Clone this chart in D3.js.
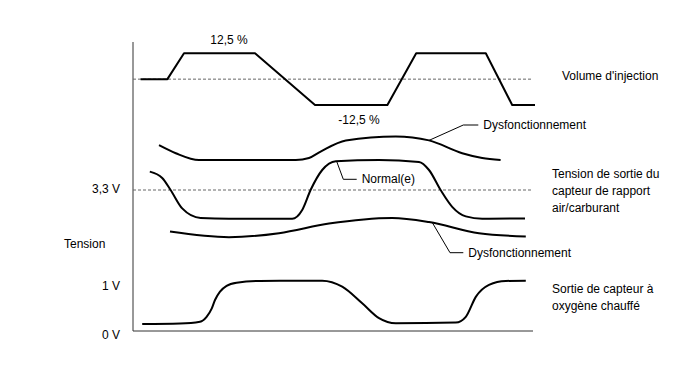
<!DOCTYPE html>
<html><head><meta charset="utf-8">
<script src="https://cdn.jsdelivr.net/npm/d3@7/dist/d3.min.js"></script>
<style>
body{margin:0;background:#fff;}
text{font-family:"Liberation Sans",Arial,sans-serif;font-size:12px;fill:#000;}
</style></head>
<body><svg id="c" width="688" height="366"></svg>
<script>
// time axis (arbitrary units 0..100)
const injT = [1.9, 8.6, 12.75, 30.5, 45.5, 63.6, 70.8, 88.2, 94.8, 100.5];
const injV = [0, 0, 12.5, 12.5, -12.5, -12.5, 12.5, 12.5, -12.5, -12.5];

const afNormalT = [4.2, 7.3, 9.4, 12.3, 16.9, 24, 39.8, 42.3, 44.4, 47.3, 50.7, 61.5, 71.5, 74, 76.9, 79.8, 83.2, 87.3, 98];
const afNormalV = [3.53, 3.45, 3.30, 3.07, 2.95, 2.94, 2.94, 3.05, 3.30, 3.55, 3.66, 3.675, 3.65, 3.55, 3.30, 3.09, 2.97, 2.94, 2.945];

const afHighT = [6.5, 10.7, 16.5, 40.7, 44, 46.9, 53.2, 65.7, 74, 82.3, 87.3, 91.9];
const afHighV = [3.86, 3.76, 3.675, 3.675, 3.70, 3.78, 3.92, 3.97, 3.92, 3.76, 3.70, 3.675];

const afLowT = [9.25, 24, 36.5, 49, 64.8, 74, 86.5, 98.2];
const afLowV = [2.78, 2.71, 2.76, 2.88, 2.95, 2.90, 2.76, 2.72];

const o2T = [2.3, 11.75, 16.75, 18.4, 19.7, 20.5, 21.75, 23.4, 25.9, 31.75, 47.3, 52.3, 57.3, 61.5, 65.7, 80.7, 83.2, 85.7, 89, 93.2, 98.2];
const o2V = [0.158, 0.17, 0.21, 0.32, 0.51, 0.70, 0.89, 1.02, 1.09, 1.13, 1.135, 1.0, 0.625, 0.29, 0.174, 0.19, 0.32, 0.77, 1.04, 1.13, 1.135];

const voltTicks = [
  {label: "3,3 V", scale: "af", v: 3.3},
  {label: "1 V", scale: "o2", v: 1},
  {label: "0 V", scale: "o2", v: 0}
];
const injLabels = [{text: "12,5 %", t: 24, v: 12.5}, {text: "-12,5 %", t: 56.5, v: -12.5}];

const svg = d3.select("#c");
const x = d3.scaleLinear().domain([0, 100]).range([133, 533]);
const yInj = d3.scaleLinear().domain([-12.5, 12.5]).range([105, 53.3]);
const yAF = d3.scaleLinear().domain([2.5, 4.1]).range([254, 126]);
const yO2 = d3.scaleLinear().domain([0, 1]).range([331, 286.7]);
const scales = {af: yAF, o2: yO2};

// axes
svg.append("line").attr("x1", x(0)).attr("x2", x(0)).attr("y1", 42).attr("y2", yO2(0)).attr("stroke", "#333").attr("stroke-width", 1);
svg.append("line").attr("x1", x(0)).attr("x2", x(100)).attr("y1", yO2(0)).attr("y2", yO2(0)).attr("stroke", "#333").attr("stroke-width", 1);

// dashed reference lines
svg.append("line").attr("x1", x(0)).attr("x2", x(100)).attr("y1", yInj(0)).attr("y2", yInj(0))
  .attr("stroke", "#666").attr("stroke-dasharray", "3,2");
svg.append("line").attr("x1", x(0)).attr("x2", x(100)).attr("y1", yAF(3.3)).attr("y2", yAF(3.3))
  .attr("stroke", "#666").attr("stroke-dasharray", "3,2");

function draw(ts, vs, ys, curve) {
  const pts = ts.map((t, i) => [t, vs[i]]);
  svg.append("path").datum(pts)
    .attr("d", d3.line().x(d => x(d[0])).y(d => ys(d[1])).curve(curve))
    .attr("fill", "none").attr("stroke", "#000").attr("stroke-width", 2).attr("stroke-linejoin", "round");
}
draw(injT, injV, yInj, d3.curveLinear);
draw(afHighT, afHighV, yAF, d3.curveMonotoneX);
draw(afNormalT, afNormalV, yAF, d3.curveMonotoneX);
draw(afLowT, afLowV, yAF, d3.curveMonotoneX);
draw(o2T, o2V, yO2, d3.curveMonotoneX);

// injection labels
injLabels.forEach(l => {
  svg.append("text").attr("x", x(l.t)).attr("y", yInj(l.v) + (l.v > 0 ? -12 : 16)).attr("text-anchor", "middle").attr("dominant-baseline", "middle").text(l.text);
});

// voltage tick labels
voltTicks.forEach(tk => {
  let yy = scales[tk.scale](tk.v);
  if (tk.v === 0) yy += 5;
  svg.append("text").attr("x", 120).attr("y", yy).attr("text-anchor", "end").attr("dominant-baseline", "middle").text(tk.label);
});
svg.append("text").attr("x", 64).attr("y", 245).attr("dominant-baseline", "middle").text("Tension");

// leader lines + callouts
function callout(t, v, ys, bx, by, ex, label) {
  svg.append("polyline").attr("points", `${x(t)},${ys(v)} ${bx},${by} ${ex},${by}`)
    .attr("fill", "none").attr("stroke", "#000").attr("stroke-width", 1);
  svg.append("text").attr("x", ex + 5).attr("y", by + 1).attr("dominant-baseline", "middle").text(label);
}
callout(74, 3.92, yAF, 463.3, 125, 478.3, "Dysfonctionnement");
callout(50.9, 3.66, yAF, 343.3, 179.3, 356.7, "Normal(e)");
callout(74.8, 2.895, yAF, 450, 252.7, 463.3, "Dysfonctionnement");

// right side series labels
const rightLabels = [
  {lines: ["Volume d'injection"], x: 562, y: 77},
  {lines: ["Tension de sortie du", "capteur de rapport", "air/carburant"], x: 552, y: 175},
  {lines: ["Sortie de capteur à", "oxygène chauffé"], x: 552, y: 290}
];
rightLabels.forEach(r => {
  r.lines.forEach((ln, i) => {
    svg.append("text").attr("x", r.x).attr("y", r.y + i * 16.7).attr("dominant-baseline", "middle").text(ln);
  });
});
</script></body></html>
